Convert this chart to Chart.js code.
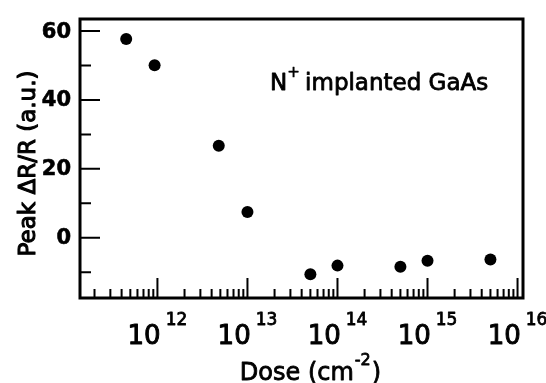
<!DOCTYPE html>
<html><head><meta charset="utf-8">
<script src="https://cdn.jsdelivr.net/npm/chart.js@4/dist/chart.umd.min.js"></script>
<style>html,body{margin:0;padding:0;background:#fff;}#wrap{width:546px;height:383px;}</style>
</head><body><div id="wrap"><canvas id="c" width="546" height="383"></canvas></div>
<script>
// ---- data ----
const doses = [4.5e11, 9.3e11, 4.8e12, 1e13, 5e13, 1e14, 5e14, 1e15, 5e15];
const peakValues = [57.7, 50.1, 26.7, 7.5, -10.6, -8.1, -8.4, -6.7, -6.3];
const xTickExponents = [12, 13, 14, 15, 16];
const yTickLabels = [60, 40, 20, 0];
const yMinorTicks = [50, 30, 10, -10];
const xTitle = ['Dose (cm', '-2', ')'];
const yTitle = 'Peak \u0394R/R (a.u.)';
const annotation = ['N', '+', ' implanted GaAs'];
const annotationAt = {x: 1.78e13, y: 42.9};

const FONT = '"DejaVu Sans"';

function heavyText(ctx, s, x, y, w) {
  ctx.lineWidth = w;
  ctx.lineJoin = 'round';
  ctx.strokeText(s, x, y);
  ctx.fillText(s, x, y);
}

const decor = {
  id: 'decor',
  afterDatasetsDraw(chart) {
    const {ctx, chartArea: a, scales: {x, y}} = chart;
    ctx.save();
    ctx.strokeStyle = '#000';
    ctx.fillStyle = '#000';
    // frame
    ctx.lineWidth = 3;
    ctx.strokeRect(a.left, a.top, a.right - a.left, a.bottom - a.top);
    // ticks (inward)
    ctx.lineWidth = 2;
    ctx.beginPath();
    yTickLabels.forEach(v => { const p = y.getPixelForValue(v); ctx.moveTo(a.left, p); ctx.lineTo(a.left + 20, p); });
    yMinorTicks.forEach(v => { const p = y.getPixelForValue(v); ctx.moveTo(a.left, p); ctx.lineTo(a.left + 11, p); });
    for (let e = 11; e <= 16; e++) {
      for (let m = 1; m <= 9; m++) {
        const v = m * Math.pow(10, e);
        if (v < x.min || v > x.max) continue;
        const p = x.getPixelForValue(v);
        ctx.moveTo(p, a.bottom);
        ctx.lineTo(p, a.bottom - (m === 1 ? 20 : 9));
      }
    }
    ctx.stroke();
    // y tick labels
    ctx.font = 'bold 21px ' + FONT;
    ctx.textAlign = 'right';
    ctx.textBaseline = 'middle';
    yTickLabels.forEach(v => heavyText(ctx, String(v), a.left - 9, y.getPixelForValue(v) + 1, 0.6));
    // x tick labels 10^n
    ctx.textAlign = 'left';
    ctx.textBaseline = 'alphabetic';
    xTickExponents.forEach(n => {
      const p = x.getPixelForValue(Math.pow(10, n));
      ctx.font = '26px ' + FONT;
      const wb = ctx.measureText('10').width;
      ctx.font = '17px ' + FONT;
      const ws = ctx.measureText(String(n)).width;
      const gap = 5;
      const start = p - (wb + gap + ws) / 2;
      ctx.font = '26px ' + FONT;
      heavyText(ctx, '10', start, a.bottom + 46, 1);
      ctx.font = '17px ' + FONT;
      heavyText(ctx, String(n), start + wb + gap, a.bottom + 27, 0.8);
    });
    // x title
    ctx.font = '24px ' + FONT;
    const w1 = ctx.measureText(xTitle[0]).width;
    const w3 = ctx.measureText(xTitle[2]).width;
    ctx.font = '16px ' + FONT;
    const w2 = ctx.measureText(xTitle[1]).width;
    let sx = (a.left + a.right) / 2 + 9 - (w1 + w2 + w3 + 2) / 2;
    const by = a.bottom + 82;
    ctx.font = '24px ' + FONT;
    heavyText(ctx, xTitle[0], sx, by, 0.8);
    ctx.font = '16px ' + FONT;
    heavyText(ctx, xTitle[1], sx + w1 + 1, by - 15, 0.8);
    ctx.font = '24px ' + FONT;
    heavyText(ctx, xTitle[2], sx + w1 + w2 + 2, by, 0.8);
    // y title
    ctx.save();
    ctx.translate(35, (a.top + a.bottom) / 2 + 5);
    ctx.rotate(-Math.PI / 2);
    ctx.textAlign = 'center';
    ctx.font = '23px ' + FONT;
    heavyText(ctx, yTitle, 0, 0, 1.1);
    ctx.restore();
    // annotation
    const ax = x.getPixelForValue(annotationAt.x);
    const ay = y.getPixelForValue(annotationAt.y);
    ctx.textAlign = 'left';
    ctx.font = '23px ' + FONT;
    const wn = ctx.measureText(annotation[0]).width;
    heavyText(ctx, annotation[0], ax, ay, 0.8);
    ctx.font = '15px ' + FONT;
    const wp = ctx.measureText(annotation[1]).width;
    heavyText(ctx, annotation[1], ax + wn, ay - 13, 0.6);
    ctx.font = '23px ' + FONT;
    heavyText(ctx, annotation[2], ax + wn + wp - 2, ay, 0.8);
    ctx.restore();
  }
};

new Chart(document.getElementById('c'), {
  type: 'scatter',
  data: {
    datasets: [{
      data: doses.map((d, i) => ({x: d, y: peakValues[i]})),
      backgroundColor: '#000',
      borderColor: '#000',
      borderWidth: 0,
      pointRadius: 6,
      pointHoverRadius: 6
    }]
  },
  options: {
    responsive: false,
    animation: false,
    devicePixelRatio: 1,
    layout: {padding: {left: 80, right: 23, top: 19, bottom: 85}},
    plugins: {legend: {display: false}, tooltip: {enabled: false}},
    scales: {
      x: {type: 'logarithmic', min: 1.38e11, max: 1.15e16, display: false},
      y: {type: 'linear', min: -17.5, max: 63.5, display: false}
    }
  },
  plugins: [decor]
});
</script></body></html>
